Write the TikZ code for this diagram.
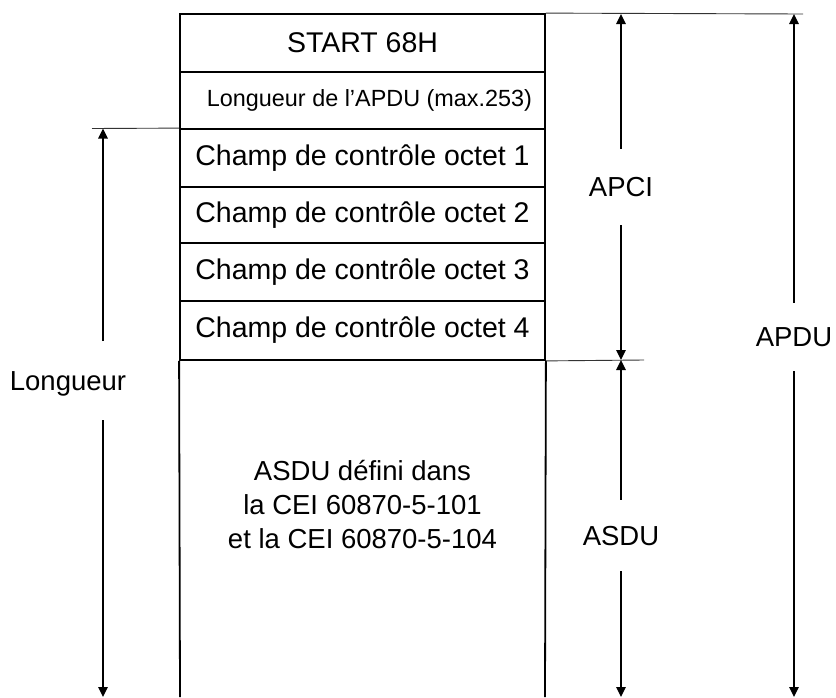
\documentclass[tikz,border=0pt]{standalone}
\usepackage{fontspec}
\setmainfont{Liberation Sans}
\usetikzlibrary{arrows.meta}
\begin{document}
\begin{tikzpicture}[x=1pt,y=-1pt,
  rowbox/.style={draw, line width=1.8pt, minimum width=365pt, inner sep=0pt,
    font=\fontsize{28.5}{31}\selectfont},
  dimline/.style={line width=1.3pt, -{Triangle[width=9.5pt,length=10pt]}},
  extline/.style={line width=0.9pt, black!80},
  dimlabel/.style={inner sep=0pt, text height=19pt, text depth=0pt,
    font=\fontsize{27.5}{30}\selectfont}]
\useasboundingbox (0,0) rectangle (836,697);

% frame rows
\node[rowbox, minimum height=58pt] (r1) at (362.5,43) {START 68H};
\node[rowbox, minimum height=57pt, font=\fontsize{23.4}{26}\selectfont] (r2) at (362.5,100.5) {\hspace{14pt}Longueur de l’APDU (max.253)};
\node[rowbox, minimum height=58pt] (r3) at (362.5,158) {Champ de contrôle octet 1};
\node[rowbox, minimum height=56pt] (r4) at (362.5,215) {Champ de contrôle octet 2};
\node[rowbox, minimum height=58pt] (r5) at (362.5,272) {Champ de contrôle octet 3};
\node[rowbox, minimum height=59pt] (r6) at (362.5,330.5) {Champ de contrôle octet 4};

% open ASDU section below
\node[inner sep=0pt, align=center, font=\fontsize{27.5}{34}\selectfont] (asdutext) at (362.5,505)
  {ASDU défini dans\\la CEI 60870-5-101\\et la CEI 60870-5-104};
\coordinate (bl) at (180,697);
\coordinate (br) at (545,697);
\draw[line width=1.8pt] (r6.south west) -- (bl);
\draw[line width=1.8pt] (r6.south east) -- (br);

% extension lines
\coordinate (topend) at (803,14);
\coordinate (leftend) at (92,128.5);
\coordinate (midend) at (644,360);
\draw[extline] (r1.north east) -- (topend);
\draw[extline] (r3.north west) -- (leftend);
\draw[extline] (r6.south east) -- (midend);

% dimension labels
\node[dimlabel, minimum height=76pt] (apci) at (621,187) {APCI};
\node[dimlabel, minimum height=71pt] (asdu) at (621,535.5) {ASDU};
\node[dimlabel, minimum height=68pt] (apdu) at (794,337) {APDU};
\node[dimlabel, minimum height=79pt] (long) at (68,380.5) {Longueur};

% dimension end points
\coordinate (apcitop) at (621,14);
\coordinate (apcibot) at (621,360);
\coordinate (asdutop) at (621,360);
\coordinate (asdubot) at (621,697);
\coordinate (apdutop) at (794,14);
\coordinate (apdubot) at (794,697);
\coordinate (longtop) at (103,128.5);
\coordinate (longbot) at (103,697);

% dimension arrows
\draw[dimline] (apci.north) -- (apcitop);
\draw[dimline] (apci.south) -- (apcibot);
\draw[dimline] (asdu.north) -- (asdutop);
\draw[dimline] (asdu.south) -- (asdubot);
\draw[dimline] (apdu.north) -- (apdutop);
\draw[dimline] (apdu.south) -- (apdubot);
\draw[dimline] (103,341) -- (longtop);
\draw[dimline] (103,420) -- (longbot);
\end{tikzpicture}
\end{document}
